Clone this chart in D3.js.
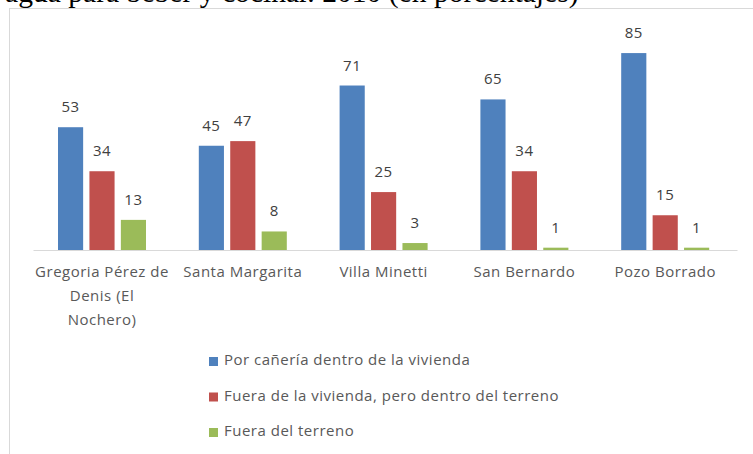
<!DOCTYPE html>
<html lang="es">
<head>
<meta charset="utf-8">
<title>Agua para beber y cocinar</title>
<style>
  body { margin: 0; background: #fff; }
  #chart { width: 753px; height: 454px; overflow: hidden; }
  .lbl { font-family: "Open Sans", sans-serif; letter-spacing: 0.5px; }
</style>
</head>
<body>
<div id="chart"></div>
<script src="https://d3js.org/d3.v7.min.js"></script>
<script>
  const categories = ['Gregoria Pérez de Denis (El Nochero)', 'Santa Margarita', 'Villa Minetti', 'San Bernardo', 'Pozo Borrado']
  const tickLabels = [['Gregoria Pérez de', 'Denis (El', 'Nochero)'], ['Santa Margarita'], ['Villa Minetti'], ['San Bernardo'], ['Pozo Borrado']]
  const seriesNames = ['Por cañería dentro de la vivienda', 'Fuera de la vivienda, pero dentro del terreno', 'Fuera del terreno']
  const dentroVivienda = [53, 45, 71, 65, 85]
  const dentroTerreno = [34, 47, 25, 34, 15]
  const fueraTerreno = [13, 8, 3, 1, 1]
  const colors = ['#4f81bd', '#c0504d', '#9bbb59']

  const series = [dentroVivienda, dentroTerreno, fueraTerreno]
  const width = 753
  const height = 454
  const plot = { left: 33, right: 737, top: 41.5, bottom: 250 }

  const svg = d3.select('#chart')
    .append('svg')
    .attr('width', width)
    .attr('height', height)

  // caption line of the page, cut by the top edge
  svg.append('text')
    .attr('x', 5)
    .attr('y', 2)
    .style('font-family', '"Liberation Serif", serif')
    .attr('font-size', 29.6)
    .attr('fill', '#000')
    .text('agua para beber y cocinar. 2010 (en porcentajes)')

  // chart frame
  svg.append('rect')
    .attr('x', 9.5)
    .attr('y', 8.5)
    .attr('width', 760)
    .attr('height', 460)
    .attr('fill', '#fff')
    .attr('stroke', '#d9d9d9')

  const x0 = d3.scaleBand()
    .domain(categories)
    .range([plot.left - 1.4, plot.right - 1.4])

  const x1 = d3.scaleBand()
    .domain(d3.range(series.length))
    .range([0, 88])
    .paddingInner(0.2)

  const y = d3.scaleLinear()
    .domain([0, 90])
    .range([plot.bottom, plot.top])

  const groups = svg.append('g')
    .selectAll('g')
    .data(categories)
    .join('g')
    .attr('transform', d => `translate(${x0(d) + (x0.bandwidth() - 88) / 2}, 0)`)

  groups.selectAll('rect')
    .data((d, i) => series.map((s, k) => ({ k, v: s[i] })))
    .join('rect')
    .attr('x', d => x1(d.k))
    .attr('y', d => y(d.v))
    .attr('width', x1.bandwidth())
    .attr('height', d => plot.bottom - y(d.v))
    .attr('fill', d => colors[d.k])

  groups.selectAll('text')
    .data((d, i) => series.map((s, k) => ({ k, v: s[i] })))
    .join('text')
    .attr('class', 'lbl')
    .attr('x', d => x1(d.k) + x1.bandwidth() / 2)
    .attr('y', d => y(d.v) - 15)
    .attr('text-anchor', 'middle')
    .attr('font-size', 15)
    .attr('fill', '#404040')
    .text(d => d.v)

  // category axis line
  const axisScale = d3.scaleLinear().range([plot.left, plot.right])
  const axis = svg.append('g')
    .attr('transform', `translate(0, ${plot.bottom})`)
    .call(d3.axisBottom(axisScale).ticks(0).tickSizeOuter(0))
  axis.select('.domain').attr('stroke', '#d9d9d9')

  const ticks = svg.append('g')
    .selectAll('text')
    .data(categories)
    .join('text')
    .attr('class', 'lbl')
    .attr('x', d => x0(d) + x0.bandwidth() / 2)
    .attr('y', plot.bottom + 27)
    .attr('text-anchor', 'middle')
    .attr('font-size', 15)
    .attr('fill', '#595959')
  ticks.selectAll('tspan')
    .data((d, i) => tickLabels[i])
    .join('tspan')
    .attr('x', function () { return d3.select(this.parentNode).attr('x') })
    .attr('dy', (d, i) => i === 0 ? 0 : 24)
    .text(d => d)

  // legend
  const legend = svg.append('g')
    .selectAll('g')
    .data(seriesNames)
    .join('g')
    .attr('transform', (d, i) => `translate(209, ${360 + i * 35.5})`)
  legend.append('rect')
    .attr('x', 0)
    .attr('y', -3)
    .attr('width', 9)
    .attr('height', 9)
    .attr('fill', (d, i) => colors[i])
  legend.append('text')
    .attr('class', 'lbl')
    .attr('x', 15)
    .attr('y', 5)
    .attr('font-size', 15)
    .attr('fill', '#595959')
    .text(d => d)
</script>
</body>
</html>
